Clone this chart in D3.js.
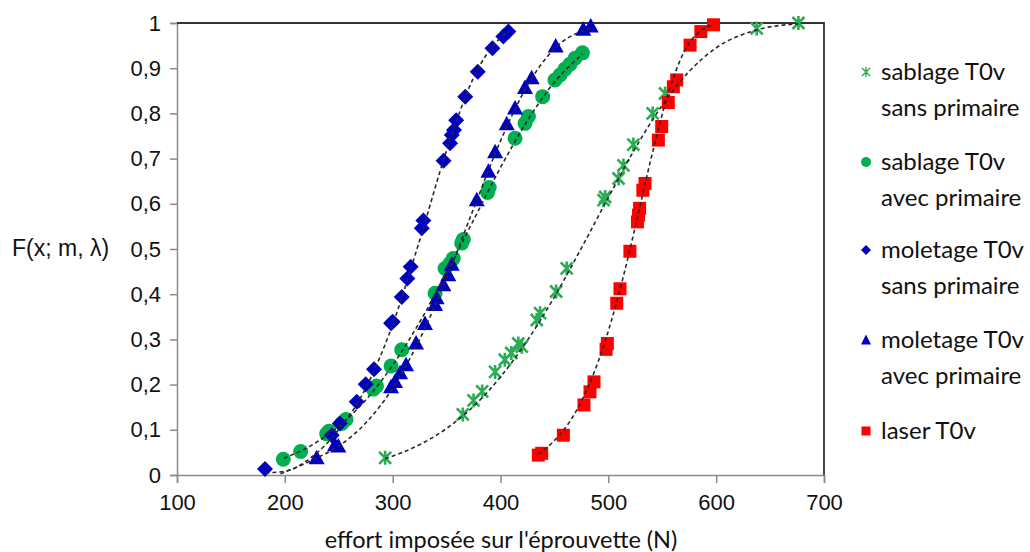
<!DOCTYPE html>
<html><head><meta charset="utf-8">
<script src="https://cdn.jsdelivr.net/npm/d3@7"></script>
<style>body{margin:0;background:#fff}</style>
</head><body><svg id="c" width="1030" height="552"></svg>
<script>
// ---- data ----
const xTicks = [100, 200, 300, 400, 500, 600, 700];
const yTicks = [0, 0.1, 0.2, 0.3, 0.4, 0.5, 0.6, 0.7, 0.8, 0.9, 1];
const yTickLabels = ["0", "0,1", "0,2", "0,3", "0,4", "0,5", "0,6", "0,7", "0,8", "0,9", "1"];
const legendLabels = [["sablage T0v", "sans primaire"], ["sablage T0v", "avec primaire"], ["moletage T0v", "sans primaire"], ["moletage T0v", "avec primaire"], ["laser T0v"]];
const xTitle = "effort imposée sur l'éprouvette (N)";
const yTitle = "F(x; m, λ)";

// sablage T0v sans primaire (green star)
const sablageSansX = [293, 365, 375, 383, 395, 404, 410, 416.5, 419.8, 433.6, 436.7, 451.6, 461.4, 495.6, 497, 509.5, 514, 523.2, 541.1, 552.6, 637.6, 676.3];
const sablageSansF = [0.038, 0.134, 0.165, 0.185, 0.228, 0.255, 0.27, 0.291, 0.284, 0.343, 0.358, 0.406, 0.457, 0.608, 0.615, 0.656, 0.685, 0.731, 0.800, 0.844, 0.988, 1.0];
// sablage T0v avec primaire (green circle)
const sablageAvecX = [198.6, 214.7, 238.8, 241, 252.8, 256.8, 282, 285, 298.5, 308.4, 339.3, 348.6, 353.2, 356.2, 364, 365.5, 388, 389.5, 413.5, 422.7, 425.9, 439.1, 450.5, 455.2, 459.8, 464.5, 469.1, 476];
const sablageAvecF = [0.035, 0.052, 0.091, 0.097, 0.114, 0.123, 0.19, 0.197, 0.241, 0.277, 0.402, 0.457, 0.468, 0.479, 0.513, 0.521, 0.625, 0.636, 0.745, 0.778, 0.793, 0.837, 0.874, 0.885, 0.898, 0.909, 0.922, 0.934];
// moletage T0v sans primaire (blue diamond)
const moletageSansX = [181.6, 243.5, 251, 266.7, 275, 282.7, 298.5, 300, 308.4, 313.6, 316.7, 327, 328.5, 347.2, 353.2, 354.8, 356.9, 358.9, 367.3, 378.9, 392.5, 402.6, 407.3];
const moletageSansF = [0.013, 0.088, 0.114, 0.162, 0.201, 0.234, 0.336, 0.339, 0.394, 0.435, 0.461, 0.546, 0.563, 0.695, 0.734, 0.752, 0.763, 0.785, 0.837, 0.892, 0.944, 0.970, 0.981];
// moletage T0v avec primaire (blue triangle)
const moletageAvecX = [229.5, 246.5, 249.6, 298.5, 302.2, 306.9, 312.4, 321.7, 330, 339.3, 340.8, 347, 351.6, 354.8, 378, 388.8, 395, 405.8, 413.5, 422.7, 428.9, 451.2, 476.8, 483.7];
const moletageAvecF = [0.037, 0.066, 0.063, 0.194, 0.206, 0.225, 0.243, 0.291, 0.334, 0.376, 0.391, 0.420, 0.442, 0.465, 0.608, 0.671, 0.714, 0.776, 0.811, 0.856, 0.878, 0.948, 0.985, 0.992];
// laser T0v (red square)
const laserX = [435.1, 438.2, 458.3, 477.4, 483, 486.7, 497.9, 499.1, 507.8, 510.8, 520, 527, 528, 529, 532, 534, 546.4, 549.5, 555.6, 560.3, 563.4, 575.8, 585.8, 597.5];
const laserF = [0.044, 0.048, 0.088, 0.155, 0.184, 0.206, 0.278, 0.291, 0.380, 0.412, 0.495, 0.560, 0.575, 0.590, 0.630, 0.645, 0.741, 0.771, 0.824, 0.859, 0.874, 0.951, 0.981, 0.996];

// fitted curves (dashed)
const curveSablageSans = [[293, 0.036], [325, 0.067], [350, 0.103], [375, 0.152], [400, 0.217], [425, 0.298], [450, 0.394], [475, 0.502], [500, 0.614], [525, 0.723], [550, 0.818], [575, 0.893], [600, 0.945], [640, 0.986], [676, 0.998]];
const curveSablageAvec = [[199, 0.037], [225, 0.066], [250, 0.108], [275, 0.166], [300, 0.243], [325, 0.338], [350, 0.447], [375, 0.564], [400, 0.680], [425, 0.784], [450, 0.869], [476, 0.931]];
const curveMoletageSans = [[182, 0.005], [200, 0.008], [225, 0.040], [250, 0.100], [275, 0.192], [300, 0.333], [325, 0.519], [350, 0.718], [375, 0.879], [400, 0.967], [408, 0.981]];
const curveMoletageAvec = [[196, 0.003], [230, 0.038], [250, 0.064], [275, 0.115], [300, 0.192], [325, 0.300], [350, 0.436], [375, 0.589], [400, 0.739], [425, 0.862], [450, 0.943], [484, 0.989]];
const curveLaser = [[435, 0.046], [450, 0.076], [465, 0.121], [480, 0.188], [495, 0.281], [510, 0.403], [525, 0.549], [540, 0.704], [555, 0.840], [570, 0.935], [585, 0.982], [598, 0.996]];

// ---- drawing ----
const svg = d3.select("#c");
const L = 177, R = 824, T = 23, B = 475;
const x = d3.scaleLinear().domain([100, 700]).range([L, R]);
const y = d3.scaleLinear().domain([0, 1]).range([B, T]);

const axisFont = "'Liberation Sans', Arial, sans-serif";
const textFont = "Lato, 'Open Sans', sans-serif";

// axes
const gx = svg.append("g").attr("transform", `translate(0,${B})`)
  .call(d3.axisBottom(x).tickValues(xTicks).tickSize(8).tickPadding(11).tickFormat(d3.format("d")));
const gy = svg.append("g").attr("transform", `translate(${L},0)`)
  .call(d3.axisLeft(y).tickValues(yTicks).tickSize(7).tickPadding(9).tickFormat((d, i) => yTickLabels[i]));
[gx, gy].forEach(g => {
  g.select(".domain").attr("stroke", "#8a8a8a").attr("stroke-width", 1.5);
  g.selectAll(".tick line").attr("stroke", "#8a8a8a").attr("stroke-width", 1.5);
  g.selectAll(".tick text").attr("font-family", axisFont).attr("font-size", 22).attr("fill", "#111");
});
// frame top & right
svg.append("path").attr("d", `M${L},${T}H${R}V${B}`).attr("fill", "none").attr("stroke", "#333").attr("stroke-width", 1.8);

// markers
const green1 = "#2aae55", green2 = "#00b050", blue = "#0000c0", red = "#ff0000";
const plot = svg.append("g");
function pts(xs, fs) { return xs.map((v, i) => [v, fs[i]]); }

const starPath = "M-6,-6L6,6M-6,6L6,-6M0,-7L0,7";
plot.selectAll(".star").data(pts(sablageSansX, sablageSansF)).join("path")
  .attr("transform", d => `translate(${x(d[0])},${y(d[1])})`)
  .attr("d", starPath).attr("stroke", green1).attr("stroke-width", 2.6).attr("fill", "none");

plot.selectAll(".circ").data(pts(sablageAvecX, sablageAvecF)).join("circle")
  .attr("cx", d => x(d[0])).attr("cy", d => y(d[1])).attr("r", 7.5).attr("fill", green2);

plot.selectAll(".diam").data(pts(moletageSansX, moletageSansF)).join("path")
  .attr("transform", d => `translate(${x(d[0])},${y(d[1])})`)
  .attr("d", "M0,-8L8,0L0,8L-8,0Z").attr("fill", blue);

plot.selectAll(".tri").data(pts(moletageAvecX, moletageAvecF)).join("path")
  .attr("transform", d => `translate(${x(d[0])},${y(d[1])})`)
  .attr("d", "M0,-8.5L8,6L-8,6Z").attr("fill", blue);

plot.selectAll(".sq").data(pts(laserX, laserF)).join("rect")
  .attr("x", d => x(d[0]) - 6.5).attr("y", d => y(d[1]) - 6.5).attr("width", 13).attr("height", 13).attr("fill", red);

// dashed curves on top
const line = d3.line().x(d => x(d[0])).y(d => y(d[1])).curve(d3.curveMonotoneX);
[curveSablageSans, curveSablageAvec, curveMoletageSans, curveMoletageAvec, curveLaser].forEach(c => {
  svg.append("path").attr("d", line(c)).attr("fill", "none").attr("stroke", "#2a2a2a")
    .attr("stroke-width", 1.6).attr("stroke-dasharray", "4,3");
});

// titles
svg.append("text").attr("x", 501).attr("y", 548).attr("text-anchor", "middle")
  .attr("font-family", textFont).attr("font-size", 23.5).attr("fill", "#111").text(xTitle);
svg.append("text").attr("x", 12).attr("y", 256)
  .attr("font-family", axisFont).attr("font-size", 23).attr("fill", "#111").text(yTitle);

// legend
const legY = [72, 162, 250, 340, 431];
const legShapes = [
  g => g.append("path").attr("d", "M-4,-4L4,4M-4,4L4,-4M0,-5L0,5").attr("stroke", green1).attr("stroke-width", 1.5).attr("fill", "none"),
  g => g.append("circle").attr("r", 5).attr("fill", green2),
  g => g.append("path").attr("d", "M0,-5L5,0L0,5L-5,0Z").attr("fill", blue),
  g => g.append("path").attr("d", "M0,-5.5L5,4.5L-5,4.5Z").attr("fill", blue),
  g => g.append("rect").attr("x", -4.5).attr("y", -4.5).attr("width", 9).attr("height", 9).attr("fill", red)
];
legendLabels.forEach((lab, i) => {
  const g = svg.append("g").attr("transform", `translate(866,${legY[i]})`);
  legShapes[i](g);
  lab.forEach((t, j) => {
    svg.append("text").attr("x", 881).attr("y", legY[i] + 8 + j * 36)
      .attr("font-family", textFont).attr("font-size", 24).attr("fill", "#111").text(t);
  });
});
</script></body></html>
